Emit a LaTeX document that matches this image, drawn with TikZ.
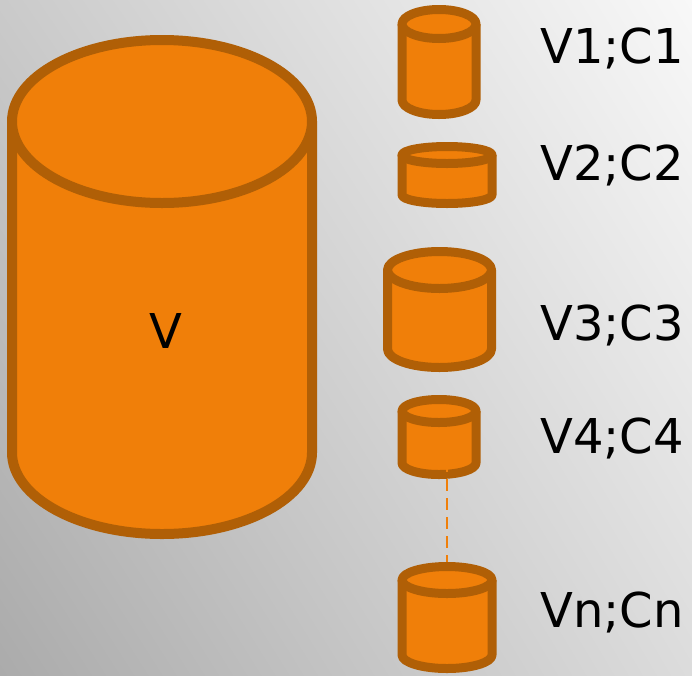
\documentclass[tikz,border=0pt]{standalone}
\usepackage{fontspec}
\setmainfont{DejaVu Sans}
\usetikzlibrary{shadings}
\definecolor{cylfillc}{HTML}{F07F09}
\definecolor{cyllinec}{HTML}{B05F06}
\definecolor{bgUL}{HTML}{CACACA}
\definecolor{bgUR}{HTML}{F8F8F8}
\definecolor{bgLL}{HTML}{ABABAB}
\definecolor{bgLR}{HTML}{DCDCDC}
\tikzset{
  cylbody/.style={fill=cylfillc},
  cylstroke/.style={draw=cyllinec, line join=round},
  lbl/.style={font=\fontsize{48}{50}\selectfont, text=black, inner sep=0pt, anchor=base west},
  dashlink/.style={draw=cylfillc, line width=2.2pt, dash pattern=on 12pt off 7pt},
}
% #1 cx, #2 top centre y, #3 bottom centre y, #4 rx, #5 ry, #6 line width
\newcommand\drawcyl[6]{%
  \filldraw[cylbody,cylstroke,line width=#6pt] (#1-#4,#2) -- (#1-#4,#3)
     arc[start angle=180, end angle=360, x radius=#4pt, y radius=#5pt] -- (#1+#4,#2);
  \filldraw[cylbody,cylstroke,line width=#6pt] (#1,#2) ellipse [x radius=#4pt, y radius=#5pt];
}
\begin{document}
\begin{tikzpicture}[x=1pt,y=-1pt]
\useasboundingbox (0,0) rectangle (692,675);
\shade[upper left=bgUL, upper right=bgUR, lower left=bgLL, lower right=bgLR] (0,0) rectangle (692,675);
% big cylinder
\drawcyl{162}{121.5}{452.5}{150}{81.5}{10}
\node[lbl, anchor=base] (vbig) at (166,348) {V};
% small cylinders
\drawcyl{439}{24}{100}{37}{14.5}{9}
\drawcyl{447}{155}{195}{45}{8.5}{9}
\drawcyl{439.5}{270}{349}{52}{18.5}{9}
\drawcyl{439}{411}{463}{37}{11.5}{9}
\coordinate (c4in) at (447,460);
\coordinate (cntop) at (447,563);
\draw[dashlink] (c4in) -- (cntop);
\drawcyl{447}{580}{655}{45}{13.5}{9}
% labels
\node[lbl] (l1) at (540,63) {V1;C1};
\node[lbl] (l2) at (540,180) {V2;C2};
\node[lbl] (l3) at (540,340) {V3;C3};
\node[lbl] (l4) at (540,453) {V4;C4};
\node[lbl] (ln) at (540,627) {Vn;Cn};
\end{tikzpicture}
\end{document}
